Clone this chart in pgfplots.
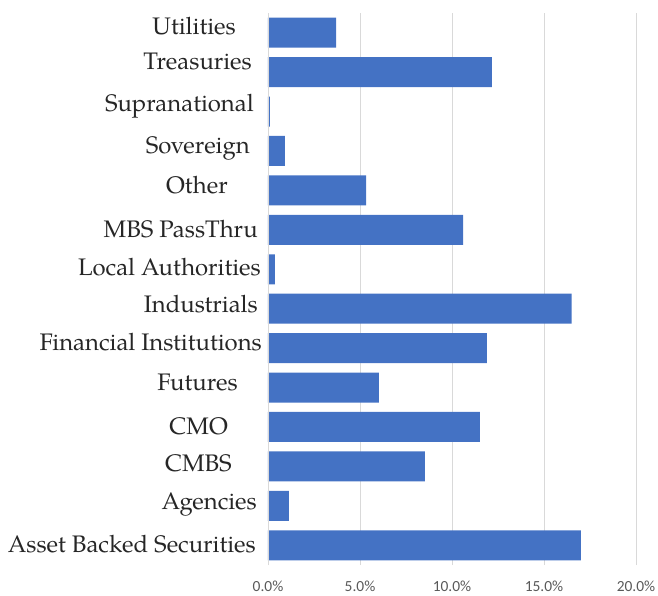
\documentclass[border=0pt]{standalone}
\usepackage{fontspec}
\usepackage{pgfplots}
\pgfplotsset{compat=1.18}
\newfontfamily\carlito{Carlito}
\newfontfamily\pal{TeX Gyre Pagella}
\definecolor{barblue}{HTML}{4472C4}
\definecolor{gridgray}{HTML}{D9D9D9}
\definecolor{ticktext}{HTML}{595959}
% #1 = drop below bar centre (bp), #2 = right gap (bp), #3 = text
\newcommand\lab[3]{\raisebox{-#1bp}{#3\rule{#2bp}{0pt}}}
\begin{document}
\begin{tikzpicture}
\begin{axis}[
  name=ax,
  at={(0,0)}, anchor=south west,
  scale only axis,
  width=368bp, height=552bp,
  xbar, bar width=30bp,
  xmin=0, xmax=20,
  ymin=-0.5, ymax=13.5,
  xtick={0,5,10,15,20},
  ytick={0,...,13},
  yticklabels={
    \lab{7.2}{6}{Asset Backed Securities},
    \lab{3.5}{5}{Agencies},
    \lab{4.7}{30}{CMBS},
    \lab{7.7}{34}{CMO},
    \lab{2.9}{24}{Futures},
    \lab{2.5}{0}{Financial Institutions},
    \lab{3.8}{4}{Industrials},
    \lab{6.7}{1}{Local Authorities},
    \lab{7.3}{4}{MBS PassThru},
    \lab{2.9}{34}{Other},
    \lab{2.5}{12}{Sovereign},
    \lab{-0.5}{8}{Supranational},
    \lab{-2.3}{10}{Treasuries},
    \lab{1.3}{26}{Utilities}},
  yticklabel style={anchor=base east, inner sep=0pt, xshift=-6bp, font=\fontsize{24}{26}\selectfont\pal, text=black!85},
  xticklabel style={font=\fontsize{15.5}{17}\selectfont\carlito, text=ticktext, inner sep=0pt, yshift=-16bp},
  /pgf/number format/assume math mode=true,
  xticklabel={\pgfmathprintnumber[fixed,fixed zerofill,precision=1]{\tick}\%},
  xmajorgrids, grid style={gridgray, line width=0.8bp},
  major tick length=0pt,
  axis line style={draw=none},
  axis y line*=left,
  axis x line*=bottom,
  clip=false,
]
\addplot[fill=barblue, draw=none] coordinates {
(17.0,0) (1.14,1) (8.53,2) (11.52,3) (6.03,4) (11.9,5) (16.5,6) (0.38,7) (10.6,8) (5.33,9) (0.92,10) (0.1,11) (12.17,12) (3.7,13)
};
\draw[gridgray, line width=0.8bp] (rel axis cs:0,0) -- (rel axis cs:0,1);
\end{axis}
\pgfresetboundingbox
\path[use as bounding box] (-268bp,-31bp) rectangle (390bp,565bp);
\end{tikzpicture}
\end{document}
